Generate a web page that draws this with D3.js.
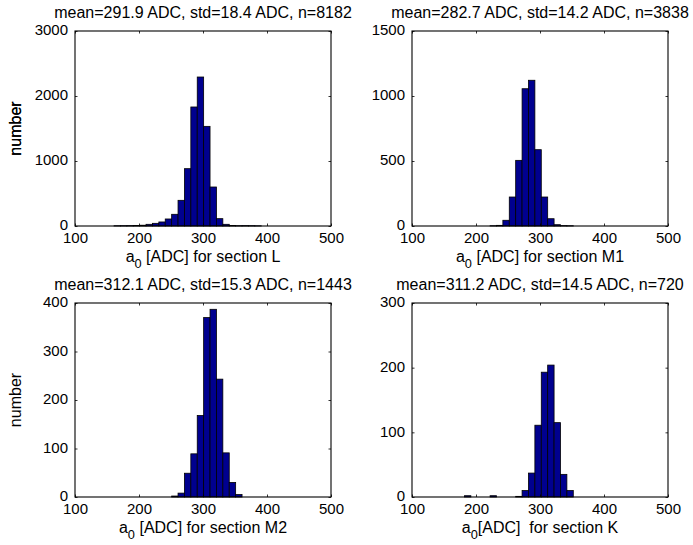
<!DOCTYPE html>
<html><head><meta charset="utf-8">
<script src="https://cdn.jsdelivr.net/npm/d3@7"></script>
<style>body{margin:0;background:#fff}svg{display:block}text{font-family:"Liberation Sans",Arial,sans-serif;fill:#000}</style>
</head><body>
<script>
// ---- data ----
const xTicks = [100, 200, 300, 400, 500];

const titleL = "mean=291.9 ADC, std=18.4 ADC, n=8182";
const binsL = [166,176,186,196,206,216,226,236,246,256,266,276,286,296,306,316,326,336,346,356,366,376,386];
const countsL = [4,5,6,8,12,26,41,62,108,180,395,882,1831,2292,1533,600,113,26,9,5,6,5,3];
const yTicksL = [0, 1000, 2000, 3000];

const titleM1 = "mean=282.7 ADC, std=14.2 ADC, n=3838";
const binsM1 = [227,237,247,257,267,277,287,297,307,317,327,337,347];
const countsM1 = [2,5,44,223,505,1056,1121,587,223,56,10,3,2];
const yTicksM1 = [0, 500, 1000, 1500];

const titleM2 = "mean=312.1 ADC, std=15.3 ADC, n=1443";
const binsM2 = [256,266,276,286,296,306,316,326,336,346,356];
const countsM2 = [2,8,49,89,168,370,387,243,91,30,5];
const yTicksM2 = [0, 100, 200, 300, 400];

const titleK = "mean=311.2 ADC, std=14.5 ADC, n=720";
const binsK = [187,227,267,277,287,297,307,317,327,337,347];
const countsK = [2,2,1,10,37,111,193,204,115,35,10];
const yTicksK = [0, 100, 200, 300];

const binWidth = 10;
const yLabel = "number";

// ---- drawing ----
const W = 693, H = 545;
const svg = d3.select("body").append("svg").attr("width", W).attr("height", H);

const panels = [
  {title: titleL, bins: binsL, counts: countsL, yTicks: yTicksL, xl: ["a", "0", " [ADC] for section L"], ylab: true, left: 75, top: 31, w: 256, h: 195},
  {title: titleM1, bins: binsM1, counts: countsM1, yTicks: yTicksM1, xl: ["a", "0", " [ADC] for section M1"], ylab: true, left: 412, top: 31, w: 256, h: 195},
  {title: titleM2, bins: binsM2, counts: countsM2, yTicks: yTicksM2, xl: ["a", "0", " [ADC] for section M2"], ylab: true, left: 75, top: 303, w: 256, h: 194},
  {title: titleK, bins: binsK, counts: countsK, yTicks: yTicksK, xl: ["a", "0", "[ADC]  for section K"], ylab: false, left: 412, top: 303, w: 256, h: 194}
];

const FS_TICK = 15;
const FS_LAB = 16;
const barColor = "#00008f";
const FONT = '"Liberation Sans",Arial,sans-serif';

panels.forEach(p => {
  const g = svg.append("g").attr("transform", `translate(${p.left},${p.top})`);
  const x = d3.scaleLinear().domain([100, 500]).range([0, p.w]);
  const y = d3.scaleLinear().domain([0, d3.max(p.yTicks)]).range([p.h, 0]);

  // bars
  g.selectAll("rect.bar").data(p.bins.map((b, i) => ({b, c: p.counts[i]})))
    .enter().append("rect").attr("class", "bar")
    .attr("x", d => x(d.b - binWidth / 2))
    .attr("width", d => x(d.b + binWidth / 2) - x(d.b - binWidth / 2))
    .attr("y", d => y(d.c))
    .attr("height", d => y(0) - y(d.c))
    .attr("fill", barColor).attr("stroke", "#000").attr("stroke-width", 0.8);

  // axes with inward ticks
  const tl = 2.5;
  const ax = d3.axisBottom(x).tickValues(xTicks).tickSize(-tl).tickFormat(d3.format("d"));
  const ay = d3.axisLeft(y).tickValues(p.yTicks).tickSize(-tl).tickFormat(d3.format("d"));
  const axT = d3.axisTop(x).tickValues(xTicks).tickSize(-tl).tickFormat("");
  const ayR = d3.axisRight(y).tickValues(p.yTicks).tickSize(-tl).tickFormat("");

  const gx = g.append("g").attr("transform", `translate(0,${p.h})`).call(ax);
  const gy = g.append("g").call(ay);
  const gxT = g.append("g").call(axT);
  const gyR = g.append("g").attr("transform", `translate(${p.w},0)`).call(ayR);
  [gx, gy, gxT, gyR].forEach(a => {
    a.select(".domain").remove();
    a.selectAll("line").attr("stroke", "#000").attr("stroke-width", 0.8);
    a.selectAll("text").attr("font-size", FS_TICK).attr("font-family", FONT).attr("fill", "#000");
  });
  gx.selectAll("text").attr("y", 17).attr("dy", 0);
  gy.selectAll("text").attr("x", -7).attr("dy", "0.26em");

  // box
  g.append("rect").attr("x", 0).attr("y", 0).attr("width", p.w).attr("height", p.h)
    .attr("fill", "none").attr("stroke", "#000").attr("stroke-width", 1.1);

  // title
  g.append("text").attr("x", p.w / 2).attr("y", -13).attr("text-anchor", "middle")
    .attr("font-size", FS_LAB).text(p.title);

  // x label with subscript
  const xt = g.append("text").attr("x", p.w / 2).attr("y", p.h + 36).attr("text-anchor", "middle")
    .attr("font-size", FS_LAB).attr("xml:space", "preserve").style("white-space", "pre");
  xt.append("tspan").text(p.xl[0]);
  xt.append("tspan").attr("dy", 6).attr("font-size", FS_LAB * 0.8).text(p.xl[1]);
  xt.append("tspan").attr("dy", -6).text(p.xl[2]);

  // y label
  if (p.ylab) {
    g.append("text").attr("transform", `translate(${-p.left + 21},${p.h / 2}) rotate(-90)`)
      .attr("text-anchor", "middle").attr("font-size", FS_LAB).text(yLabel);
  }
});
</script>
</body></html>
